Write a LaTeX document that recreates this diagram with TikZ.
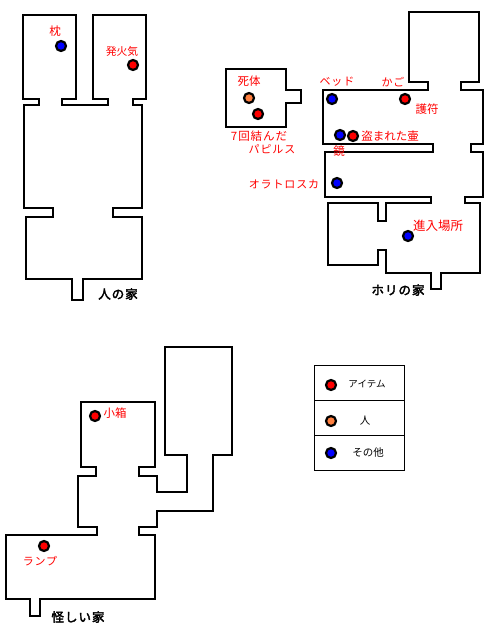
\documentclass[tikz,border=0pt]{standalone}
\usepackage{fontspec}
\newfontfamily\cjk{Noto Sans CJK JP}
\newfontfamily\cjkw[LetterSpace=8]{Noto Sans CJK JP}
\newfontfamily\cjkb[LetterSpace=8,FakeBold=3]{Noto Sans CJK JP}
\definecolor{persononge}{RGB}{255,128,64}
\tikzset{
  wall/.style={draw=black,line width=2.2pt,miter limit=4,fill=white},
  housedot/.style={circle,draw=black,line width=2.2pt,minimum size=10pt,inner sep=0pt},
  itemdot/.style={housedot,fill=red},
  persondot/.style={housedot,fill=persononge},
  otherdot/.style={housedot,fill=blue},
  lab/.style={text=red,inner sep=0pt,font=\cjk\fontsize{11.5}{12}\selectfont},
  labw/.style={text=red,inner sep=0pt,font=\cjkw\fontsize{11}{12}\selectfont},
  captxt/.style={text=black,inner sep=0pt,font=\cjkb\fontsize{12.5}{13}\selectfont},
  legtxt/.style={text=black,inner sep=0pt,font=\cjk\fontsize{10.5}{11}\selectfont},
  legbox/.style={draw=black,line width=1pt}
}
\begin{document}
\begin{tikzpicture}[x=1pt,y=-1pt]
\useasboundingbox (0,0) rectangle (488,628);
% Person's house
\draw[wall] (23,15)--(76,15)--(76,99)--(62,99)--(62,105)--(108,105)--(108,99)--(93,99)--(93,15)--(146,15)--(146,99)--(133,99)--(133,105)--(142,105)--(142,208)--(113,208)--(113,217)--(142,217)--(142,279)--(83,279)--(83,300)--(72,300)--(72,279)--(26,279)--(26,217)--(53,217)--(53,208)--(24,208)--(24,105)--(39,105)--(39,99)--(23,99)--cycle;
% Corpse room
\draw[wall] (226,69)--(286,69)--(286,90)--(301,90)--(301,103)--(286,103)--(286,127)--(226,127)--cycle;
% Hori house
\draw[wall] (409,12)--(479,12)--(479,82)--(461,82)--(461,90)--(483,90)--(483,144)--(471,144)--(471,152)--(483,152)--(483,197)--(465,197)--(465,203)--(480,203)--(480,273)--(441,273)--(441,289)--(431,289)--(431,273)--(386,273)--(386,250)--(378,250)--(378,265)--(328,265)--(328,203)--(378,203)--(378,221)--(386,221)--(386,203)--(431,203)--(431,197)--(325,197)--(325,152)--(433,152)--(433,144)--(323,144)--(323,90)--(428,90)--(428,82)--(409,82)--cycle;
% Strange house
\draw[wall] (165,347)--(232,347)--(232,455)--(213,455)--(213,511)--(157,511)--(157,527)--(139,527)--(139,535)--(155,535)--(155,599)--(40,599)--(40,616)--(30,616)--(30,599)--(6,599)--(6,535)--(97,535)--(97,527)--(78,527)--(78,476)--(96,476)--(96,467)--(81,467)--(81,402)--(155,402)--(155,467)--(139,467)--(139,476)--(157,476)--(157,492)--(187,492)--(187,455)--(165,455)--cycle;
% Legend
\draw[legbox] (314,365) rectangle (404,470);
\draw[legbox] (314,400)--(404,400);
\draw[legbox] (314,435)--(404,435);
% Dots
\node[otherdot] (d1) at (61,46) {};
\node[itemdot] (d2) at (133,65) {};
\node[persondot] (d3) at (249,98) {};
\node[itemdot] (d4) at (258,114) {};
\node[otherdot] (d5) at (332,99) {};
\node[itemdot] (d6) at (405,99) {};
\node[otherdot] (d7) at (340,135) {};
\node[itemdot] (d8) at (353,136) {};
\node[otherdot] (d9) at (337,183) {};
\node[otherdot] (d10) at (408,236) {};
\node[itemdot] (d11) at (95,416) {};
\node[itemdot] (d12) at (44,546) {};
\node[itemdot] (l1) at (331,385) {};
\node[persondot] (l2) at (331,421) {};
\node[otherdot] (l3) at (331,453) {};
% Labels
\node[lab] (t1) at (55,31) {枕};
\node[lab,font=\cjk\fontsize{10.8}{12}\selectfont] (t2) at (122,51) {発火気};
\node[lab] (t3) at (249,81) {死体};
\node[labw,font=\cjkw\fontsize{11.5}{12}\selectfont] (t4) at (259,136) {7回結んだ};
\node[labw] (t5) at (272,149) {パピルス};
\node[labw] (t6) at (337,82) {ベッド};
\node[labw] (t7) at (393,82) {かご};
\node[lab] (t8) at (427,109) {護符};
\node[lab] (t9) at (390,136) {盗まれた壷};
\node[lab] (t10) at (339,151) {鏡};
\node[labw] (t11) at (284,184) {オラトロスカ};
\node[lab,font=\cjk\fontsize{12.5}{13}\selectfont] (t12) at (438,226) {進入場所};
\node[lab] (t13) at (115,413) {小箱};
\node[labw] (t14) at (40,561) {ランプ};
\node[captxt] (c1) at (118,294) {人の家};
\node[captxt] (c2) at (398,290) {ホリの家};
\node[captxt] (c3) at (78,617) {怪しい家};
\node[legtxt,font=\cjk\fontsize{9.5}{11}\selectfont] (g1) at (367,384) {アイテム};
\node[legtxt] (g2) at (365,421) {人};
\node[legtxt] (g3) at (368,453) {その他};
\end{tikzpicture}
\end{document}
